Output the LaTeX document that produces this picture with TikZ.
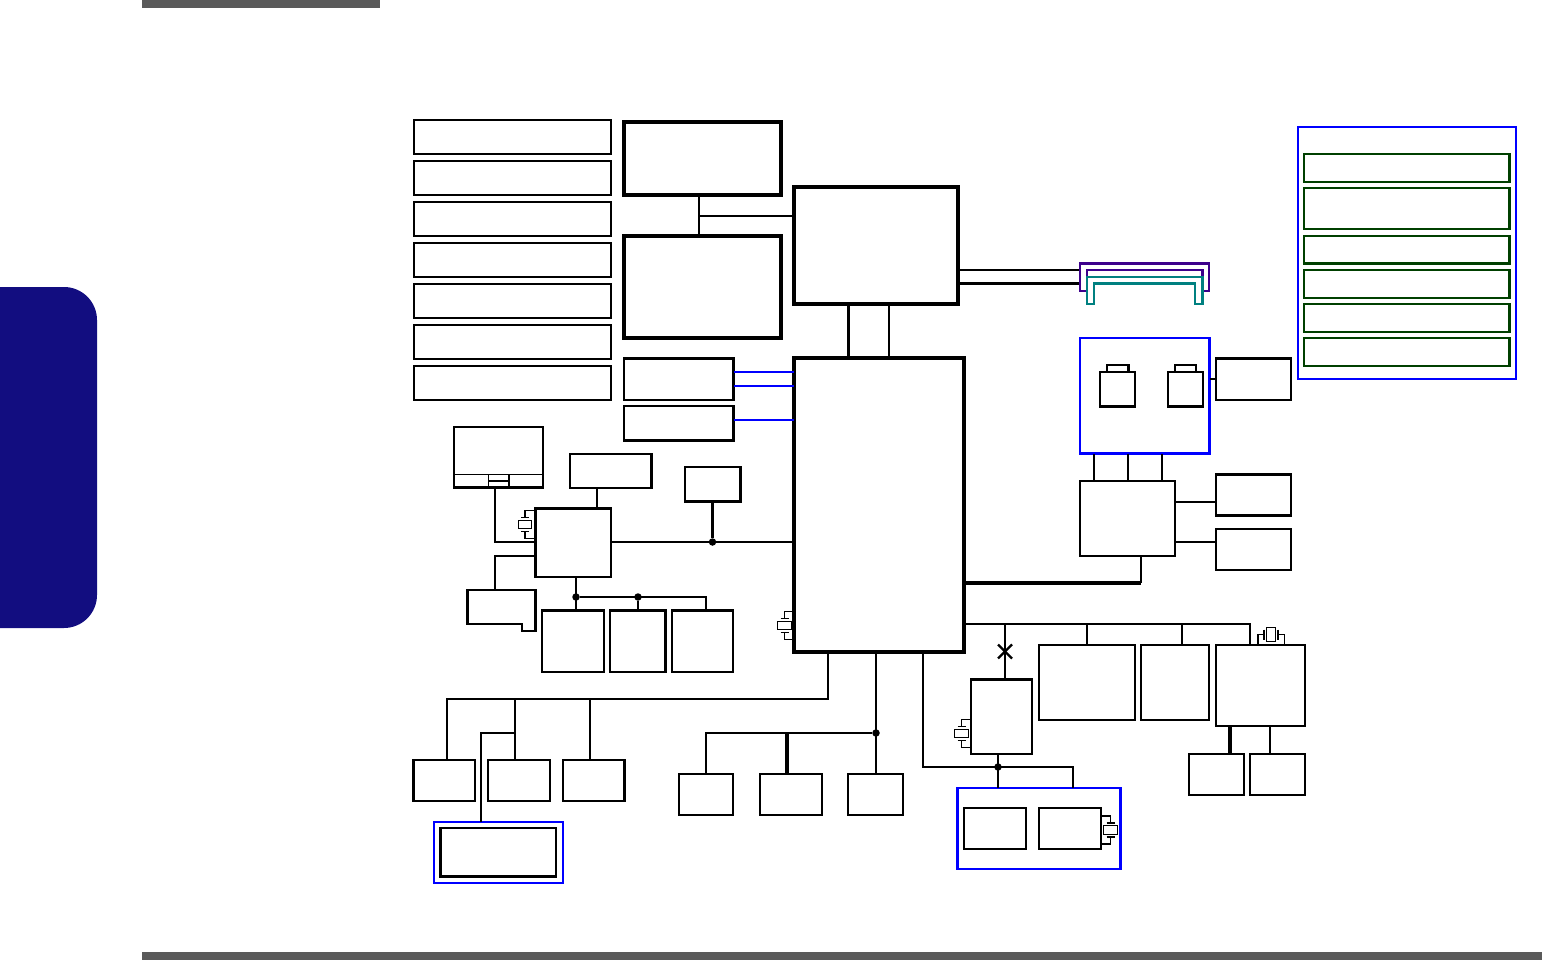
\documentclass[tikz,border=0pt]{standalone}
\usepackage{tikz}

\definecolor{tabblue}{RGB}{18,13,128}
\definecolor{bargray}{RGB}{90,90,90}
\definecolor{legendgreen}{RGB}{0,64,0}
\definecolor{buspurple}{RGB}{61,0,140}
\definecolor{busteal}{RGB}{0,128,128}

\tikzset{
  blk/.style={draw=black, line width=2.2pt, inner sep=0pt, outer sep=0pt, anchor=north west},
  stackblk/.style={blk, line width=2pt},
  heavyblk/.style={blk, line width=4pt},
  midblk/.style={blk, line width=2.8pt},
  groupblk/.style={blk, draw=blue, line width=2.4pt},
  legendblk/.style={blk, draw=legendgreen, line width=2.4pt},
  link/.style={line width=2.2pt},
  heavylink/.style={line width=3.2pt},
  bluelink/.style={line width=2.2pt, draw=blue},
  jdot/.style={circle, fill=black, inner sep=0pt, minimum size=7.5pt},
  xbody/.style={draw=black, line width=1.2pt, inner sep=0pt, outer sep=0pt},
  xlead/.style={line width=1.2pt}
}

% box given by its corners: [style]{name}{x0}{y0}{x1}{y1}
\newcommand{\blkat}[6][]{%
  \node[blk, #1, minimum width=#5pt-#3pt, minimum height=#6pt-#4pt] (#2) at (#3,#4) {};}

% crystal with its pins to the side: {name}{cx}{cy}{box it hangs on}{anchor}
\newcommand{\xtalat}[5]{%
  \node[xbody, minimum width=13.5pt, minimum height=8.5pt] (#1) at (#2,#3) {};
  \coordinate (#1up) at (#2,#3-14);
  \coordinate (#1dn) at (#2,#3+14);
  \draw[xlead] (#2-4,#3-7) -- (#2+4,#3-7);
  \draw[xlead] (#2-4,#3+7) -- (#2+4,#3+7);
  \draw[xlead] (#2,#3-7) -- (#1up) -- (#1up -| #4.#5);
  \draw[xlead] (#2,#3+7) -- (#1dn) -- (#1dn -| #4.#5);}

\begin{document}
\begin{tikzpicture}[x=1pt, y=-1pt]
  \useasboundingbox (0,0) rectangle (1542,960);

  % 1. Page furniture
  \fill[bargray] (142,0) rectangle (380,8);
  \fill[bargray] (142,952) rectangle (1542,960);
  \fill[tabblue] (0,287) -- (64,287) arc[start angle=-90, end angle=0, radius=33]
    -- (97,595) arc[start angle=0, end angle=90, radius=33] -- (0,628) -- cycle;

  % 2. Left stack
  \blkat[stackblk]{stackA}{413.5}{120.5}{611}{154.5}
  \blkat[stackblk]{stackB}{413.5}{161}{611}{195.5}
  \blkat[stackblk]{stackC}{413.5}{202}{611}{236}
  \blkat[stackblk]{stackD}{413.5}{243}{611}{277}
  \blkat[stackblk]{stackE}{413.5}{284}{611}{318}
  \blkat[stackblk]{stackF}{413.5}{325}{611}{359}
  \blkat[stackblk]{stackG}{413.5}{365.5}{611}{400}

  % 3. Memory and the two main chips
  \blkat[heavyblk]{memA}{624}{122}{781}{195}
  \blkat[heavyblk]{memB}{624}{236}{781}{338}
  \blkat[heavyblk]{northChip}{794}{187.5}{958}{304}
  \blkat[heavyblk]{southChip}{794}{358}{964}{652}
  \blkat[midblk]{memC}{624}{358.5}{733.5}{400}
  \blkat[midblk]{memD}{624}{406}{733.5}{440.5}

  \coordinate (tapMem) at (699,216);
  \draw[link] (tapMem |- memA.south) -- (tapMem |- memB.north);
  \draw[link] (tapMem) -- (tapMem -| northChip.west);
  \coordinate (tapNsA) at (848.5,330);
  \coordinate (tapNsB) at (889,330);
  \draw[heavylink] (tapNsA |- northChip.south) -- (tapNsA |- southChip.north);
  \draw[link] (tapNsB |- northChip.south) -- (tapNsB |- southChip.north);
  \coordinate (tapBlueA) at (760,372);
  \coordinate (tapBlueB) at (760,386);
  \coordinate (tapBlueC) at (760,420);
  \draw[bluelink] (tapBlueA -| memC.east) -- (tapBlueA -| southChip.west);
  \draw[bluelink] (tapBlueB -| memC.east) -- (tapBlueB -| southChip.west);
  \draw[bluelink] (tapBlueC -| memD.east) -- (tapBlueC -| southChip.west);

  % 4. Video connectors
  \coordinate (conA) at (1080,270);
  \coordinate (conB) at (1080,283.5);
  \draw[link] (conA -| northChip.east) -- (conA);
  \draw[heavylink] (conB -| northChip.east) -- (conB);
  \draw[line width=2.4pt, draw=buspurple] (1080,291) -- (1080,263.5) -- (1209,263.5) -- (1209,291)
    -- (1202.5,291) -- (1202.5,270) -- (1087,270) -- (1087,291) -- cycle;
  \draw[line width=2.4pt, draw=busteal] (1087,304) -- (1087,277) -- (1202.5,277) -- (1202.5,304)
    -- (1195,304) -- (1195,283.5) -- (1094,283.5) -- (1094,304) -- cycle;

  % 5. Legend group
  \blkat[groupblk]{legendGroup}{1298}{127}{1516}{378.7}
  \blkat[legendblk]{legendA}{1304}{154}{1509.5}{182}
  \blkat[legendblk]{legendB}{1304}{188}{1509.5}{229}
  \blkat[legendblk]{legendC}{1304}{236}{1509.5}{263.5}
  \blkat[legendblk]{legendD}{1304}{270}{1509.5}{298}
  \blkat[legendblk]{legendE}{1304}{304}{1509.5}{332}
  \blkat[legendblk]{legendF}{1304}{338}{1509.5}{366}

  % 6. Card group and its controller
  \blkat[groupblk]{cardGroup}{1080}{338}{1209.5}{453.5}
  \blkat{slotA}{1100}{372}{1135}{406.5}
  \blkat{slotB}{1168}{372}{1203}{406.5}
  \blkat{tabA}{1107}{365}{1128.5}{372}
  \blkat{tabB}{1175}{365}{1196}{372}
  \blkat[midblk]{cardSide}{1216}{358.5}{1291}{400}
  \draw[link] (cardGroup.east |- cardSide.west) -- (cardSide.west);
  \blkat{bridge}{1080}{481}{1175}{556}
  \blkat[midblk]{sideA}{1216}{474.5}{1291}{515.5}
  \blkat{sideB}{1216}{529}{1291}{570}
  \coordinate (tapCardA) at (1094,470);
  \coordinate (tapCardB) at (1128,470);
  \coordinate (tapCardC) at (1162,470);
  \draw[link] (tapCardA |- cardGroup.south) -- (tapCardA |- bridge.north);
  \draw[link] (tapCardB |- cardGroup.south) -- (tapCardB |- bridge.north);
  \draw[link] (tapCardC |- cardGroup.south) -- (tapCardC |- bridge.north);
  \coordinate (tapSideA) at (1195,502);
  \coordinate (tapSideB) at (1195,542);
  \draw[link] (tapSideA -| bridge.east) -- (tapSideA -| sideA.west);
  \draw[link] (tapSideB -| bridge.east) -- (tapSideB -| sideB.west);
  \coordinate (bendBridge) at (1141,583);
  \draw[heavylink] (bendBridge -| southChip.east) -- (bendBridge);
  \draw[link] (bendBridge) -- (bendBridge |- bridge.south);

  % 7. Keyboard controller side
  \blkat{touchPad}{454}{427}{543}{487.5}
  \blkat[xlead]{touchBtn}{488.7}{474.3}{509}{487.5}
  \draw[xlead] (touchPad.west |- touchBtn.north) -- (touchPad.east |- touchBtn.north);
  \draw[xlead] (touchBtn.west) -- (touchBtn.east);
  \blkat{kbdBox}{570}{454}{651.5}{488}
  \blkat[midblk]{fanBox}{685}{467}{740.5}{501.5}
  \blkat{kbcChip}{535.5}{508.5}{611}{577}
  \coordinate (notchTop) at (495,590);
  \draw[link] (467.5,590) -- (535.5,590) -- (535.5,631) -- (522,631) -- (522,624) -- (467.5,624) -- cycle;
  \blkat[midblk]{romA}{542}{610.5}{604}{672}
  \blkat[midblk]{romB}{610}{610.5}{665.5}{672}
  \blkat{romC}{672}{610.5}{733}{672}

  \coordinate (tapKbd) at (597,500);
  \draw[link] (tapKbd |- kbdBox.south) -- (tapKbd |- kbcChip.north);
  \coordinate (bendPad) at (495,542);
  \draw[link] (bendPad |- touchPad.south) -- (bendPad) -- (bendPad -| kbcChip.west);
  \coordinate (bendNotch) at (495,556);
  \draw[link] (bendNotch -| kbcChip.west) -- (bendNotch) -- (notchTop);
  \node[jdot] (jFan) at (712.5,542) {};
  \draw[link] (jFan -| kbcChip.east) -- (jFan -| southChip.west);
  \draw[heavylink] (jFan |- fanBox.south) -- (jFan);
  \node[jdot] (jRomA) at (576,597) {};
  \node[jdot] (jRomB) at (638,597) {};
  \coordinate (bendRom) at (706,597);
  \draw[link] (jRomA |- kbcChip.south) -- (jRomA |- romA.north);
  \draw[link] (jRomA) -- (bendRom) -- (bendRom |- romC.north);
  \draw[link] (jRomB) -- (jRomB |- romB.north);
  \xtalat{xtalKbc}{525}{524.5}{kbcChip}{west}
  \xtalat{xtalSouth}{784.5}{625.5}{southChip}{west}

  % 8. Lower left branch
  \blkat{audioA}{413.5}{760}{475}{801}
  \blkat{audioB}{488}{760}{550}{801}
  \blkat[midblk]{audioC}{563}{760}{624.5}{801}
  \blkat[groupblk]{subGroup}{434}{822}{563}{883}
  \blkat[midblk]{subBox}{440.5}{828}{556}{876.5}
  \coordinate (bendAudio) at (828,699);
  \coordinate (bendAudioA) at (447,699);
  \coordinate (tapAudioB) at (515,699);
  \coordinate (tapAudioC) at (590,699);
  \draw[link] (bendAudio |- southChip.south) -- (bendAudio) -- (bendAudioA) -- (bendAudioA |- audioA.north);
  \draw[link] (tapAudioB) -- (tapAudioB |- audioB.north);
  \draw[link] (tapAudioC) -- (tapAudioC |- audioC.north);
  \coordinate (tapSub) at (515,733);
  \coordinate (bendSub) at (481,733);
  \draw[link] (tapSub) -- (bendSub) -- (bendSub |- subGroup.north);

  % 9. Lower middle branch
  \blkat{lpcA}{679}{774}{733}{815}
  \blkat{lpcB}{760}{774}{822}{815}
  \blkat{lpcC}{848}{774}{903}{815}
  \node[jdot] (jLpc) at (876,733) {};
  \coordinate (bendLpc) at (706,733);
  \coordinate (tapLpc) at (787,733);
  \draw[link] (jLpc |- southChip.south) -- (jLpc |- lpcC.north);
  \draw[link] (jLpc) -- (bendLpc) -- (bendLpc |- lpcA.north);
  \draw[heavylink] (tapLpc) -- (tapLpc |- lpcB.north);

  % 10. Lower right branch
  \blkat{clockChip}{971}{679.5}{1032}{754}
  \blkat{usbA}{1039}{645}{1135}{720}
  \blkat{usbB}{1141}{645}{1209}{720}
  \blkat{lanChip}{1216}{645}{1305}{726}
  \blkat[midblk]{lanA}{1189}{754}{1244}{795}
  \blkat{lanB}{1250}{754}{1305}{795}
  \blkat[groupblk]{wifiGroup}{957.5}{788}{1120.5}{869}
  \blkat{wifiA}{964}{808}{1026}{849}
  \blkat{wifiB}{1039}{808}{1101}{849}

  \coordinate (busRight) at (1250,624);
  \draw[link] (busRight -| southChip.east) -- (busRight) -- (busRight |- lanChip.north);
  \coordinate (tapUsbA) at (1087,624);
  \coordinate (tapUsbB) at (1182,624);
  \draw[link] (tapUsbA) -- (tapUsbA |- usbA.north);
  \draw[link] (tapUsbB) -- (tapUsbB |- usbB.north);
  \coordinate (tapClock) at (1005,624);
  \draw[link] (tapClock) -- (tapClock |- clockChip.north);
  \coordinate (crossClock) at (1005,651.5);
  \draw[link] ([shift={(-7pt,-7pt)}]crossClock) -- ([shift={(7pt,7pt)}]crossClock);
  \draw[link] ([shift={(-7pt,7pt)}]crossClock) -- ([shift={(7pt,-7pt)}]crossClock);
  \coordinate (tapLanA) at (1230,740);
  \coordinate (tapLanB) at (1270,740);
  \draw[heavylink] (tapLanA |- lanChip.south) -- (tapLanA |- lanA.north);
  \draw[link] (tapLanB |- lanChip.south) -- (tapLanB |- lanB.north);
  \node[jdot] (jWifi) at (998,767) {};
  \coordinate (bendWifiA) at (923,767);
  \coordinate (bendWifiB) at (1073,767);
  \draw[link] (bendWifiA |- southChip.south) -- (bendWifiA) -- (bendWifiB) -- (bendWifiB |- wifiGroup.north);
  \draw[link] (jWifi |- clockChip.south) -- (jWifi |- wifiGroup.north);
  \xtalat{xtalClock}{961.5}{733.5}{clockChip}{west}
  \xtalat{xtalWifi}{1110.5}{830}{wifiB}{east}

  % crystal above the LAN chip lies on its side
  \node[xbody, minimum width=9.5pt, minimum height=14pt] (xtalLan) at (1271,634.5) {};
  \coordinate (xtalLanL) at (1258,634.5);
  \coordinate (xtalLanR) at (1284.5,634.5);
  \draw[xlead] (1264,629.5) -- (1264,639.5);
  \draw[xlead] (1278,629.5) -- (1278,639.5);
  \draw[xlead] (1264,634.5) -- (xtalLanL) -- (xtalLanL |- lanChip.north);
  \draw[xlead] (1278,634.5) -- (xtalLanR) -- (xtalLanR |- lanChip.north);
\end{tikzpicture}
\end{document}
